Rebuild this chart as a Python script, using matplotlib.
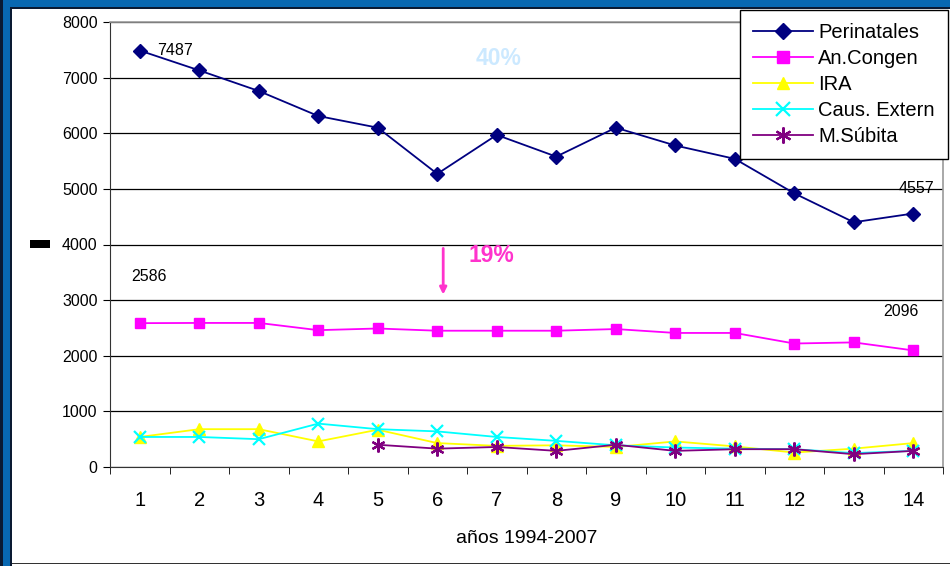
import numpy as np
import matplotlib.pyplot as plt
from matplotlib.patches import Rectangle

plt.rcParams['font.family'] = ['Liberation Sans', 'DejaVu Sans']

years = np.arange(1, 15)
perinatales = [7487, 7130, 6760, 6310, 6100, 5270, 5970, 5580, 6100, 5780, 5540, 4920, 4400, 4557]
an_congen = [2586, 2590, 2590, 2460, 2490, 2450, 2450, 2450, 2480, 2410, 2410, 2220, 2240, 2096]
ira = [540, 680, 680, 460, 670, 430, 380, 390, 360, 460, 370, 260, 330, 430]
caus_extern = [540, 540, 500, 780, 680, 640, 540, 470, 390, 350, 330, 320, 250, 290]
subita_years = np.arange(5, 15)
m_subita = [400, 330, 360, 290, 400, 290, 320, 320, 230, 290]

W, H = 950, 566
fig = plt.figure(figsize=(9.5, 5.66), dpi=100)
fig.patch.set_facecolor('#0868b2')

# white chart area and dark frame lines
fig.patches.append(Rectangle((12 / W, 0), 1 - 12 / W, 1 - 9 / H, transform=fig.transFigure,
                             facecolor='white', edgecolor='none', zorder=0))
fig.patches.append(Rectangle((0, 0), 3 / W, 1, transform=fig.transFigure,
                             facecolor='#0a1a33', edgecolor='none', zorder=0))
fig.patches.append(Rectangle((10 / W, 0), 2 / W, 1 - 7 / H, transform=fig.transFigure,
                             facecolor='#0a1a33', edgecolor='none', zorder=0))
fig.patches.append(Rectangle((10 / W, 1 - 9 / H), 1 - 10 / W, 2 / H, transform=fig.transFigure,
                             facecolor='#0a1a33', edgecolor='none', zorder=0))
fig.patches.append(Rectangle((12 / W, 2 / H), 1 - 12 / W, 1.5 / H, transform=fig.transFigure,
                             facecolor='#333333', edgecolor='none', zorder=0))
# squashed y-axis label blob
fig.patches.append(Rectangle((30 / W, 1 - 248 / H), 20 / W, 8 / H, transform=fig.transFigure,
                             facecolor='black', edgecolor='none', zorder=1))

ax = fig.add_axes([110 / W, 1 - 467 / H, 833 / W, 445 / H])
ax.set_zorder(3)
ax.set_facecolor('white')

ax.plot(years, perinatales, color='#000080', marker='D', markersize=7, lw=1.3, label='Perinatales')
ax.plot(years, an_congen, color='#ff00ff', marker='s', markersize=7, lw=1.3, label='An.Congen')
ax.plot(years, ira, color='#ffff00', marker='^', markersize=8, lw=1.3, label='IRA')
ax.plot(years, caus_extern, color='#00ffff', marker='x', markersize=9, mew=1.6, lw=1.3, label='Caus. Extern')
ax.plot(subita_years, m_subita, color='#800080', marker=(6, 2, 0), markersize=10, mew=1.6, lw=1.3,
        label='M.Súbita')

ax.set_xlim(0.5, 14.5)
ax.set_ylim(0, 8000)
ax.set_yticks(np.arange(0, 8001, 1000))
ax.set_xticks(years)
ax.set_xticks(np.arange(0.5, 14.6, 1), minor=True)
ax.tick_params(axis='x', which='major', length=0, labelsize=14.5, pad=17)
ax.tick_params(axis='x', which='minor', length=5, direction='out')
ax.tick_params(axis='y', length=5, direction='out', labelsize=11.5, pad=4)
ax.grid(axis='y', color='black', lw=0.9)
ax.set_axisbelow(True)
for s in ['top', 'right']:
    ax.spines[s].set_color('#999999')
    ax.spines[s].set_linewidth(1.2)
ax.spines['left'].set_color('#333333')
ax.spines['bottom'].set_color('#333333')
ax.set_xlabel('años 1994-2007', fontsize=14, labelpad=15)

# value labels
ax.text(1.3, 7487, '7487', fontsize=11.5, va='center', ha='left')
ax.text(13.75, 5010, '4557', fontsize=11.5, va='center', ha='left')
ax.text(0.85, 3420, '2586', fontsize=11.5, va='center', ha='left')
ax.text(13.5, 2790, '2096', fontsize=11.5, va='center', ha='left')
ax.text(6.65, 7340, '40%', fontsize=16.5, fontweight='bold', color='#cce9ff', va='center', ha='left')
ax.text(6.52, 3810, '19%', fontsize=16.5, fontweight='bold', color='#ff33cc', va='center', ha='left')
ax.annotate('', xy=(6.1, 3050), xytext=(6.1, 3980),
            arrowprops=dict(arrowstyle='-|>', color='#ff33cc', lw=2, mutation_scale=10))

leg = ax.legend(loc='upper right', bbox_to_anchor=(948 / W, 1 - 10 / H), bbox_transform=fig.transFigure,
                fontsize=14.5, frameon=True, fancybox=False, framealpha=1, edgecolor='black',
                handlelength=3.0, labelspacing=0.35, borderaxespad=0, borderpad=0.65, handletextpad=0.25,
                markerscale=1.15)
leg.get_frame().set_linewidth(1.0)

fig.savefig('out.png', dpi=100, facecolor=fig.get_facecolor())
